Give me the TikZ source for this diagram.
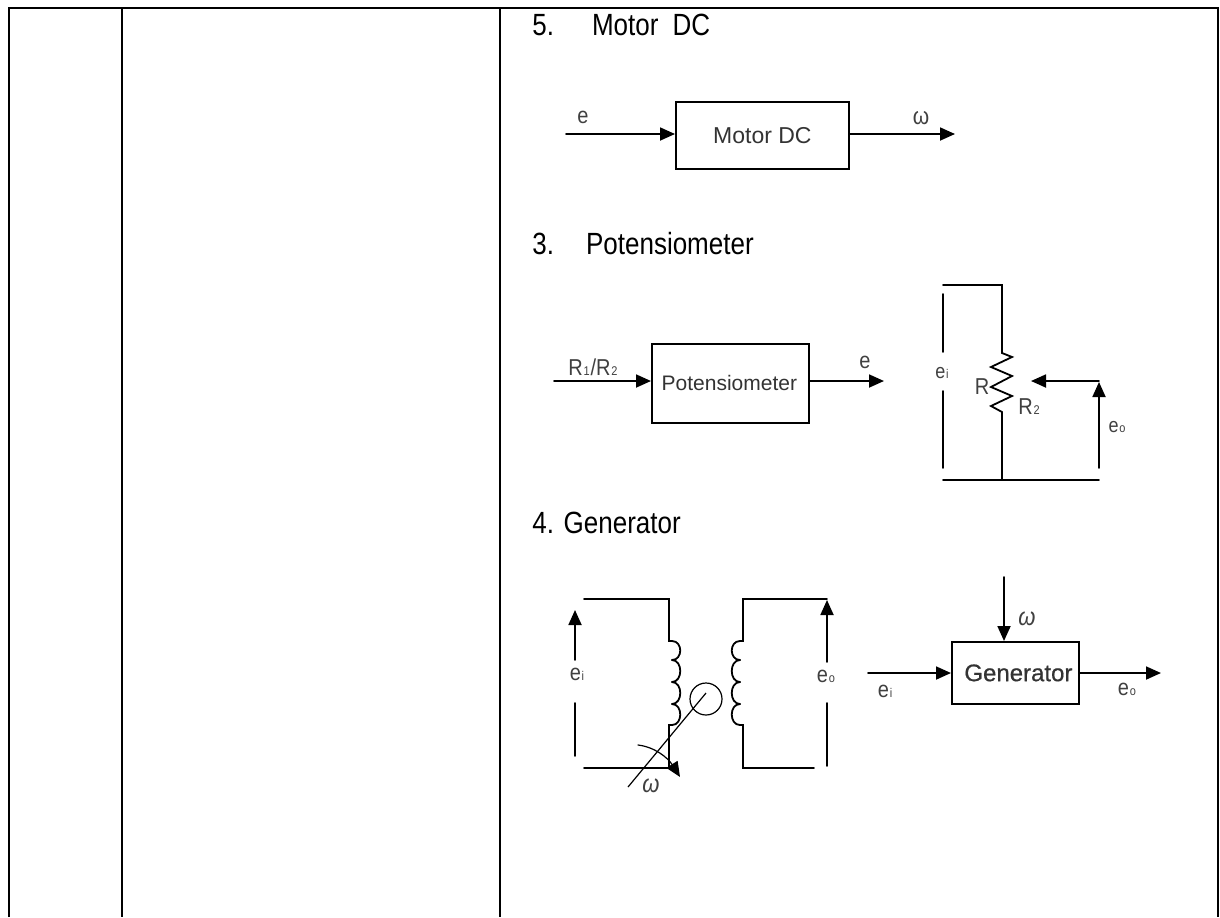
\documentclass[tikz,border=0pt]{standalone}
\usepackage{fontspec}
\setmainfont{Liberation Sans}
\newfontfamily\genfont[FakeBold=0.6]{Liberation Sans}
\usetikzlibrary{arrows.meta}
\newcommand{\tinysub}[1]{\hspace{0.4pt}{\fontsize{5.5}{6}\selectfont #1}\hspace{0.4pt}}
\tikzset{
    grid line/.style={line width=1.2pt},
    wire/.style={line width=0.9pt,line cap=round},
    thin wire/.style={line width=0.6pt},
    signal/.style={wire,-{Triangle[length=7.5pt,width=6.5pt]}},
    block/.style={draw,line width=0.9pt,inner sep=0pt,anchor=north west,text=black!80},
    heading/.style={anchor=west,inner sep=0pt,transform shape,yscale=1.18,font=\fontsize{13}{15}\selectfont},
    tag/.style={inner sep=0pt,text=black!75,transform shape,yscale=1.15,font=\fontsize{10}{12}\selectfont},
    small tag/.style={tag,font=\fontsize{9}{10}\selectfont},
    omega tag/.style={tag,font=\fontsize{10.5}{12}\selectfont},
    slant tag/.style={tag,font=\itshape\fontsize{11}{12}\selectfont}
}
\begin{document}
\begin{tikzpicture}[x=0.5pt,y=-0.5pt]
    \useasboundingbox (0,0) rectangle (1220,917);
    % table rules
    \draw[grid line] (9,917) -- (9,8) -- (1218,8) -- (1218,917);
    \draw[grid line] (122,8) -- (122,917);
    \draw[grid line] (500,8) -- (500,917);
    % headings
    \node[heading] (head5) at (532,25) {5.\hspace{19pt}Motor\hspace{7pt}DC};
    \node[heading] (head3) at (532,244) {3.\hspace{16pt}Potensiometer};
    \node[heading] (head4) at (532,523) {4. Generator};
    % motor block
    \node[block,minimum width=86.5pt,minimum height=33.5pt,font=\fontsize{11.5}{13}\selectfont] (motor) at (675,101) {Motor DC};
    \coordinate (motorin) at (566,134);
    \coordinate (motorout) at (955,134);
    \draw[signal] (motorin) -- (motorin -| motor.west);
    \draw[signal] (motorin -| motor.east) -- (motorout);
    \node[tag] (motore) at (583,117) {e};
    \node[omega tag] (motoromega) at (921,118) {ω};
    % potensiometer block
    \node[block,minimum width=78.5pt,minimum height=39.5pt,font=\fontsize{10.5}{12}\selectfont] (pot) at (651,343) {Potensiometer\hspace*{1pt}};
    \coordinate (potin) at (554,381);
    \coordinate (potout) at (884,381);
    \draw[signal] (potin) -- (potin -| pot.west);
    \draw[signal] (potin -| pot.east) -- (potout);
    \node[tag] (potratio) at (593,367) {R\tinysub{1}/R\tinysub{2}};
    \node[tag] (pote) at (865,362) {e};
    % resistor circuit
    \draw[wire] (943,285) -- (1002,285) -- (1002,353) -- (1012,357) -- (991,367) -- (1012,376) -- (991,387)
        -- (1012,396) -- (991,406) -- (1002,412) -- (1002,480);
    \draw[wire] (943,480) -- (1099,480);
    \draw[wire] (943,294) -- (943,352);
    \draw[wire] (943,391) -- (943,468);
    \draw[signal] (1099,381) -- (1031,381);
    \draw[signal] (1099,468) -- (1099,382);
    \node[small tag] (rese) at (942,373) {e\tinysub{i}};
    \node[tag] (resr) at (982,387) {R};
    \node[tag] (resrtwo) at (1029,407) {R\tinysub{2}};
    \node[small tag] (reso) at (1117,427) {e\tinysub{o}};
    % generator circuit
    \draw[wire] (584,599) -- (669,599) -- (669,641) -- (672,641);
    \draw[wire] (672,725) -- (669,725) -- (669,768) -- (584,768);
    \foreach \ya/\yb in {641/660,660/682,682/704,704/725}
        \draw[wire] (672,\ya) .. controls (683,\ya) and (683,\yb) .. (672,\yb);
    \draw[wire] (827,599) -- (743,599) -- (743,641) -- (740,641);
    \draw[wire] (740,725) -- (743,725) -- (743,768) -- (814,768);
    \foreach \ya/\yb in {641/660,660/682,682/704,704/725}
        \draw[wire] (740,\ya) .. controls (729,\ya) and (729,\yb) .. (740,\yb);
    \draw[thin wire] (706,699) circle (16);
    \draw[thin wire] (628,787) -- (706,693);
    \draw[signal,thin wire] (638,745) .. controls (655,747) and (668,758) .. (680,777);
    \draw[signal] (575,660) -- (575,610);
    \draw[wire] (575,703) -- (575,756);
    \draw[signal] (827,662) -- (827,600);
    \draw[wire] (827,703) -- (827,766);
    \node[tag] (geni) at (577,674) {e\tinysub{i}};
    \node[tag] (geno) at (826,676) {e\tinysub{o}};
    \node[slant tag] (genomega) at (651,786) {ω};
    % generator block
    \node[block,minimum width=63.5pt,minimum height=31pt,font=\genfont\fontsize{12}{13}\selectfont] (gen) at (951,641) {\hspace*{3pt}Generator};
    \coordinate (genin) at (868,673);
    \coordinate (genout) at (1161,673);
    \coordinate (gentop) at (1004,577);
    \draw[signal] (genin) -- (genin -| gen.west);
    \draw[signal] (genin -| gen.east) -- (genout);
    \draw[signal] (gentop) -- (gentop |- gen.north);
    \node[tag] (blocki) at (885,691) {e\tinysub{i}};
    \node[tag] (blocko) at (1127,689) {e\tinysub{o}};
    \node[slant tag] (blockomega) at (1027,619) {ω};
\end{tikzpicture}
\end{document}
